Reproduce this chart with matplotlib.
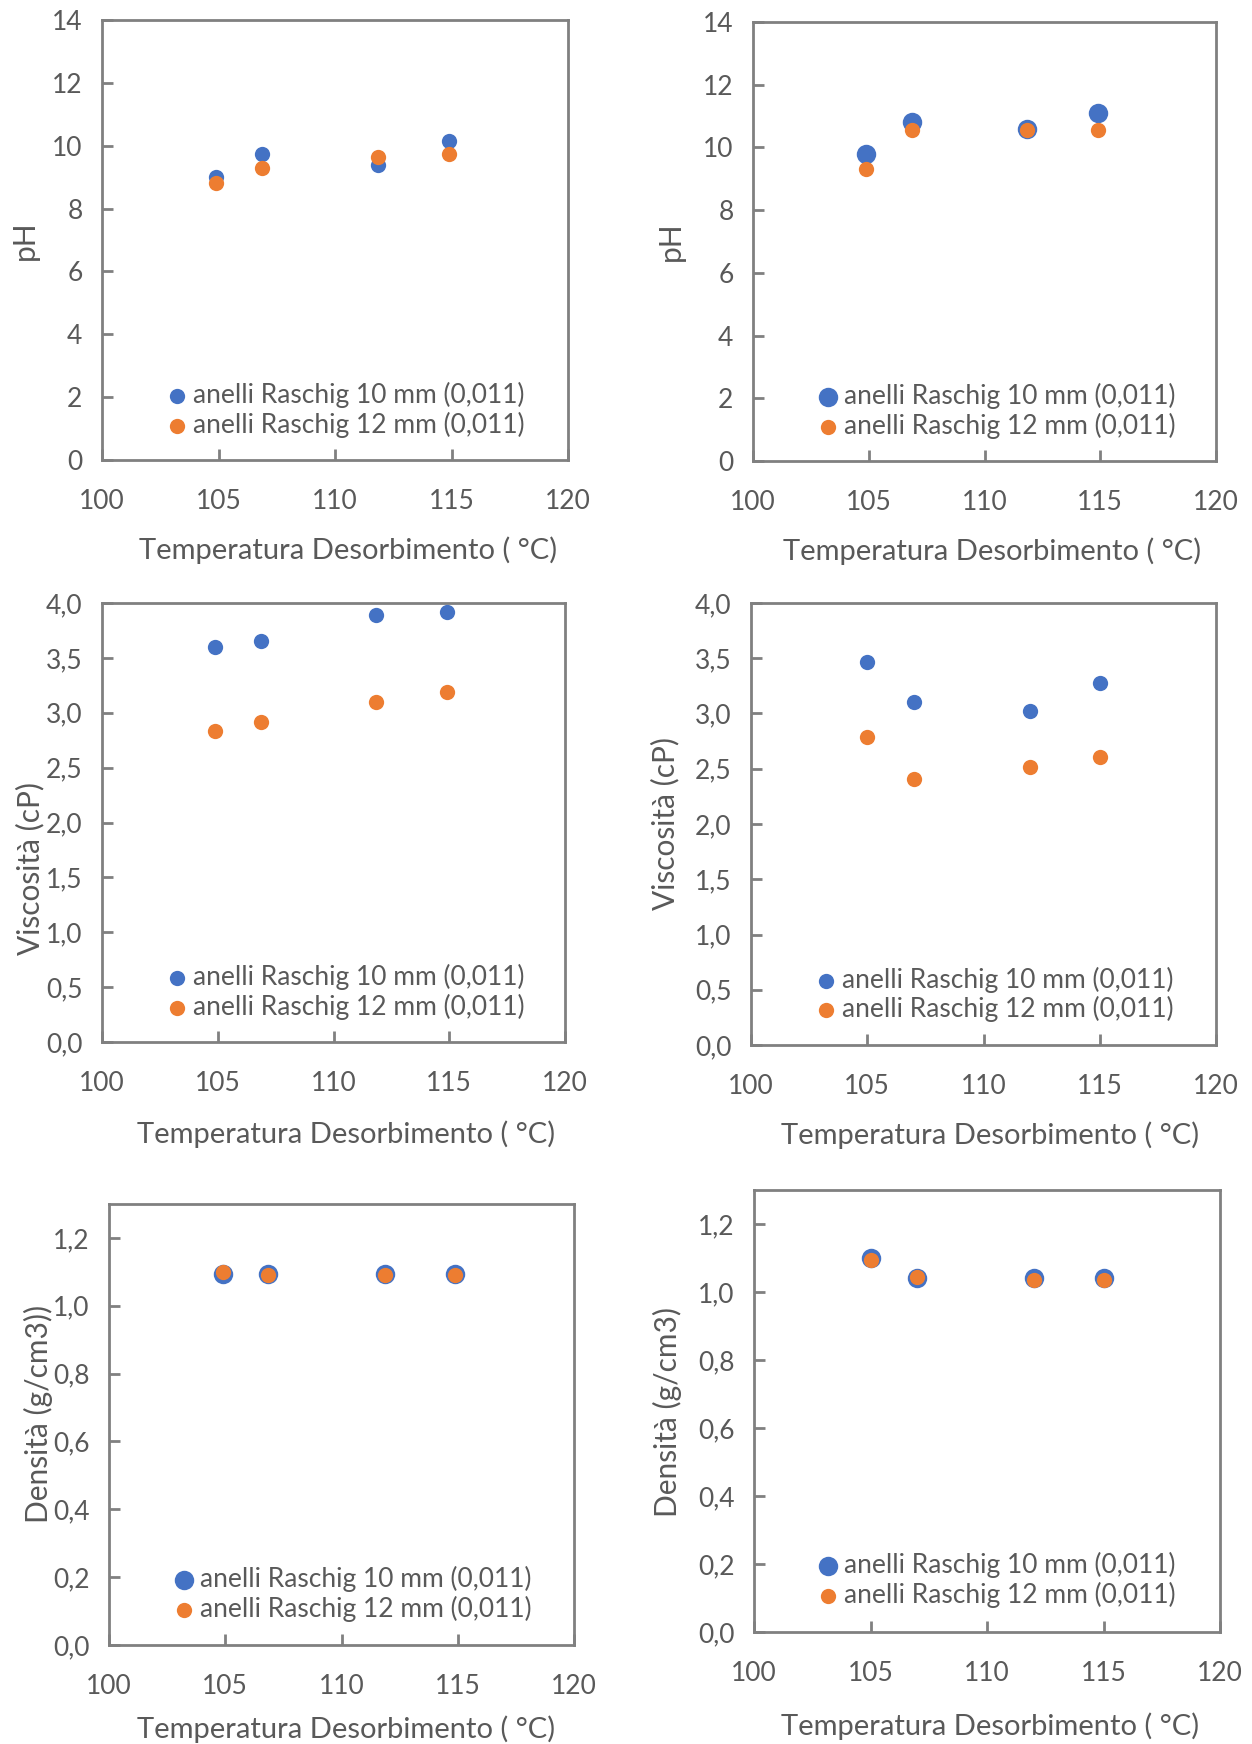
import matplotlib.pyplot as plt

plt.rcParams["font.family"] = ["Lato", "DejaVu Sans"]

BLUE = "#4472C4"
ORANGE = "#ED7D31"
TEXT = "#595959"
FRAME = "#808080"

temps = [104.9, 106.85, 111.85, 114.9]
temps_b = [105, 107, 112, 115]
lab_10 = "anelli Raschig 10 mm (0,011)"
lab_12 = "anelli Raschig 12 mm (0,011)"
xlabel = "Temperatura Desorbimento ( °C)"

# pH
ph_10_a = [9.0, 9.75, 9.4, 10.15]
ph_12_a = [8.8, 9.3, 9.65, 9.75]
ph_10_b = [9.8, 10.8, 10.6, 11.1]
ph_12_b = [9.3, 10.55, 10.55, 10.55]

# viscosita (cP)
visc_10_a = [3.60, 3.65, 3.89, 3.92]
visc_12_a = [2.83, 2.92, 3.10, 3.19]
visc_10_b = [3.47, 3.10, 3.02, 3.28]
visc_12_b = [2.79, 2.41, 2.52, 2.61]

# densita (g/cm3)
dens_10_a = [1.095, 1.095, 1.095, 1.095]
dens_12_a = [1.100, 1.090, 1.090, 1.090]
dens_10_b = [1.100, 1.040, 1.040, 1.040]
dens_12_b = [1.095, 1.045, 1.035, 1.035]

fig = plt.figure(figsize=(12.52, 17.44), dpi=100)
W, H = 1252, 1744


def make_axes(left, right, top, bottom):
    return fig.add_axes([left / W, 1 - bottom / H, (right - left) / W, (bottom - top) / H])


def panel(ax, x, y10, y12, ylim, yticks, fmt, ylabel, ylab_pos, xlab_pos, leg_pos, s10, s12):
    ax.scatter(x, y10, s=s10 ** 2, color=BLUE, label=lab_10, zorder=3, linewidths=0)
    ax.scatter(x, y12, s=s12 ** 2, color=ORANGE, label=lab_12, zorder=4, linewidths=0)
    ax.set_xlim(100, 120)
    ax.set_ylim(*ylim)
    ax.set_xticks([100, 105, 110, 115, 120])
    ax.set_yticks(yticks)
    ax.set_yticklabels([fmt(v) for v in yticks])
    for sp in ax.spines.values():
        sp.set_color(FRAME)
        sp.set_linewidth(2)
    ax.tick_params(direction="in", length=8, width=2, color=FRAME, labelcolor=TEXT,
                   labelsize=19, top=False, right=False)
    ax.tick_params(axis="x", pad=21)
    ax.tick_params(axis="y", pad=14)
    ax.set_ylabel(ylabel, fontsize=21.5, color=TEXT)
    ax.yaxis.set_label_coords(*ylab_pos)
    ax.set_xlabel(xlabel, fontsize=21, color=TEXT)
    ax.xaxis.set_label_coords(*xlab_pos)
    ax.legend(loc="center", bbox_to_anchor=leg_pos, frameon=False, fontsize=19,
              labelcolor=TEXT, handletextpad=0.1, handlelength=1.0, borderpad=0,
              labelspacing=0.12, markerscale=1.0)


def int_fmt(v):
    return f"{v:g}"


def comma_fmt(v):
    return f"{v:.1f}".replace(".", ",")


ax1 = make_axes(102, 568, 20, 460)
panel(ax1, temps, ph_10_a, ph_12_a, (0, 14), range(0, 15, 2), int_fmt, "pH",
      (-0.135, 0.5), (0.528, -0.173), (0.52, 0.114), 11, 11)

ax2 = make_axes(753, 1216, 22, 461)
panel(ax2, temps, ph_10_b, ph_12_b, (0, 14), range(0, 15, 2), int_fmt, "pH",
      (-0.148, 0.5), (0.516, -0.173), (0.523, 0.114), 14, 11)

ax3 = make_axes(102, 565, 603, 1042)
panel(ax3, temps, visc_10_a, visc_12_a, (0, 4), [i * 0.5 for i in range(9)], comma_fmt,
      "Viscosità (cP)", (-0.125, 0.395), (0.527, -0.178), (0.523, 0.114), 11, 11)

ax4 = make_axes(751, 1216, 603, 1045)
panel(ax4, temps_b, visc_10_b, visc_12_b, (0, 4), [i * 0.5 for i in range(9)], comma_fmt,
      "Viscosità (cP)", (-0.153, 0.5), (0.514, -0.173), (0.52, 0.115), 11, 11)

ax5 = make_axes(109, 574, 1204, 1645)
panel(ax5, temps, dens_10_a, dens_12_a, (0, 1.3), [i * 0.2 for i in range(7)], comma_fmt,
      "Densità (g/cm3))", (-0.12, 0.525), (0.51, -0.159), (0.52, 0.116), 14, 11)

ax6 = make_axes(754, 1220, 1190, 1632)
panel(ax6, temps_b, dens_10_b, dens_12_b, (0, 1.3), [i * 0.2 for i in range(7)], comma_fmt,
      "Densità (g/cm3)", (-0.154, 0.497), (0.506, -0.183), (0.517, 0.118), 14, 11)

fig.savefig("out.png", dpi=100)
